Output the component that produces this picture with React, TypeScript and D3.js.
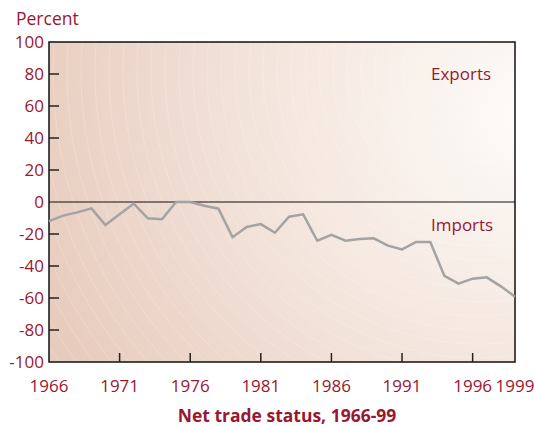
import { scaleLinear, line, range } from "d3";

const years = range(1966, 2000);
const netTrade = [
  -12, -8.5, -6.5, -4, -14.4, -7.7, -1, -10.2, -10.8, 0, 0, -2.3, -4.2, -22,
  -15.6, -13.8, -19.2, -9.2, -7.7, -24.2, -20.6, -24.2, -23.1, -22.7, -27.3,
  -29.6, -25, -25, -46.2, -51, -47.9, -47.1, -52.7, -59.2,
];
const xTicks = [1966, 1971, 1976, 1981, 1986, 1991, 1996, 1999];
const yTicks = [100, 80, 60, 40, 20, 0, -20, -40, -60, -80, -100];

const width = 534;
const height = 426;
const margin = { top: 42, right: 19, bottom: 64, left: 49 };
const innerWidth = width - margin.left - margin.right;
const innerHeight = height - margin.top - margin.bottom;
const red = "#9a1730";
const font = "'Open Sans', 'Noto Sans', sans-serif";

export default function App() {
  const x = scaleLinear().domain([1966, 1999]).range([0, innerWidth]);
  const y = scaleLinear().domain([-100, 100]).range([innerHeight, 0]);
  const path = line<number>()
    .x((_, i) => x(years[i]))
    .y((d) => y(d))(netTrade);

  return (
    <svg
      width={width}
      height={height}
      style={{ position: "absolute", left: 0, top: 0 }}
    >
      <defs>
        <radialGradient
          id="bg"
          gradientUnits="userSpaceOnUse"
          cx={margin.left + 430}
          cy={margin.top + 30}
          r={520}
        >
          <stop offset="0" stopColor="#fdfbf9" />
          <stop offset="0.45" stopColor="#f5e8e0" />
          <stop offset="1" stopColor="#e7cbbd" />
        </radialGradient>
        <clipPath id="clip">
          <rect width={innerWidth} height={innerHeight} />
        </clipPath>
      </defs>
      <rect width={width} height={height} fill="#fff" />
      <text x={16} y={25} fill={red} fontFamily={font} fontSize={17.5}>
        Percent
      </text>
      <g transform={`translate(${margin.left}, ${margin.top})`}>
        <rect width={innerWidth} height={innerHeight} fill="url(#bg)" />
        <g clipPath="url(#clip)">
          {range(20, 700, 14).map((r) => (
            <circle
              key={r}
              cx={430}
              cy={30}
              r={r}
              fill="none"
              stroke="#fff"
              strokeOpacity={0.25}
              strokeWidth={0.8}
            />
          ))}
        </g>
        <rect
          width={innerWidth}
          height={innerHeight}
          fill="none"
          stroke="#111"
          strokeWidth={1.5}
        />
        <line x1={0} x2={innerWidth} y1={y(0)} y2={y(0)} stroke="#111" strokeWidth={1.2} />
        {yTicks.map((t) => (
          <g key={t} transform={`translate(0, ${y(t)})`}>
            {t !== 100 && t !== -100 && t !== 0 && (
              <line x2={10} stroke="#222" strokeWidth={1.5} />
            )}
            <text
              x={-5}
              dy="0.36em"
              textAnchor="end"
              fill={red}
              fontFamily={font}
              fontSize={17}
            >
              {t}
            </text>
          </g>
        ))}
        {xTicks.map((t) => (
          <g key={t} transform={`translate(${x(t)}, ${innerHeight})`}>
            {t !== 1966 && t !== 1999 && (
              <line y2={-9} stroke="#222" strokeWidth={1.5} />
            )}
            <text
              y={30}
              textAnchor="middle"
              fill={red}
              fontFamily={font}
              fontSize={17}
            >
              {t}
            </text>
          </g>
        ))}
        <path
          d={path ?? ""}
          fill="none"
          stroke="#a3a3a3"
          strokeWidth={2.5}
          strokeLinejoin="miter"
        />
        <text x={382} y={38} fill={red} fontFamily={font} fontSize={17}>
          Exports
        </text>
        <text x={382} y={189} fill={red} fontFamily={font} fontSize={17}>
          Imports
        </text>
      </g>
      <text
        x={287}
        y={422}
        textAnchor="middle"
        fill={red}
        fontFamily={font}
        fontSize={17.5}
        fontWeight="bold"
      >
        Net trade status, 1966-99
      </text>
    </svg>
  );
}
